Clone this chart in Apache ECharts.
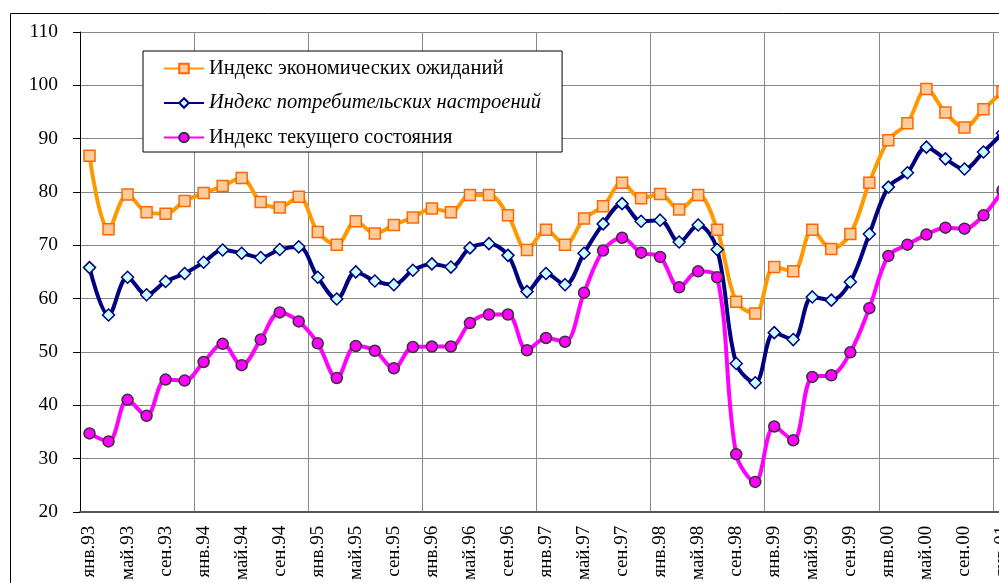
<!DOCTYPE html>
<html>
<head>
<meta charset="utf-8">
<script src="https://cdn.jsdelivr.net/npm/echarts@6/dist/echarts.min.js"></script>
<style>
html,body{margin:0;padding:0;background:#fff;overflow:hidden;}
#chart{width:1040px;height:583px;}
</style>
</head>
<body>
<div id="chart"></div>
<script>
var categories = [
 'янв.93','мар.93','май.93','июл.93','сен.93','ноя.93',
 'янв.94','мар.94','май.94','июл.94','сен.94','ноя.94',
 'янв.95','мар.95','май.95','июл.95','сен.95','ноя.95',
 'янв.96','мар.96','май.96','июл.96','сен.96','ноя.96',
 'янв.97','мар.97','май.97','июл.97','сен.97','ноя.97',
 'янв.98','мар.98','май.98','июл.98','сен.98','ноя.98',
 'янв.99','мар.99','май.99','июл.99','сен.99','ноя.99',
 'янв.00','мар.00','май.00','июл.00','сен.00','ноя.00',
 'янв.01'
];
var seriesNames = [
 'Индекс экономических ожиданий',
 'Индекс потребительских настроений',
 'Индекс текущего состояния'
];
var econExpect = [86.8,73.0,79.5,76.2,75.9,78.3,79.8,81.1,82.6,78.1,77.1,79.1,72.5,70.1,
 74.5,72.2,73.8,75.2,76.9,76.2,79.4,79.4,75.6,69.1,72.9,70.1,75.0,77.3,
 81.7,78.8,79.6,76.7,79.4,72.9,59.4,57.2,65.9,65.1,72.9,69.3,72.1,81.7,
 89.7,92.9,99.3,94.9,92.1,95.5,98.8];
var consumerSent = [65.8,56.9,64.0,60.7,63.2,64.7,66.8,69.1,68.5,67.7,69.2,69.7,64.0,59.9,
 65.0,63.3,62.6,65.3,66.5,65.9,69.5,70.3,68.1,61.3,64.7,62.6,68.5,74.0,
 77.8,74.5,74.7,70.6,73.8,69.2,47.8,44.2,53.6,52.3,60.3,59.7,63.1,72.1,
 80.9,83.6,88.4,86.2,84.3,87.5,91.0];
var currentState = [34.7,33.2,41.0,38.0,44.8,44.6,48.1,51.5,47.5,52.3,57.4,55.7,51.6,45.1,
 51.1,50.2,46.9,50.9,51.0,51.0,55.4,57.0,57.0,50.3,52.6,51.9,61.1,69.0,
 71.4,68.6,67.8,62.1,65.1,64.0,30.8,25.6,36.0,33.4,45.3,45.6,49.9,58.2,
 68.0,70.1,72.0,73.3,73.1,75.6,80.3];
var yTicks = [20,30,40,50,60,70,80,90,100,110];

var serif = '"Liberation Serif","Times New Roman",serif';
var chart = echarts.init(document.getElementById('chart'), null, {renderer:'canvas'});
chart.setOption({
  animation: false,
  backgroundColor: '#fff',
  graphic: [{
    type: 'rect', z: 0, silent: true,
    shape: {x: 10.5, y: 13.5, width: 1200, height: 800},
    style: {fill: 'none', stroke: '#000', lineWidth: 1}
  }],
  grid: {left: 80, top: 32, width: 932, height: 482, containLabel: false},
  legend: {
    left: 143, top: 51,
    orient: 'vertical',
    itemWidth: 40, itemHeight: 12,
    itemGap: 14,
    padding: [7, 21, 4, 20],
    backgroundColor: '#fff',
    borderColor: '#000', borderWidth: 1,
    data: seriesNames,
    textStyle: {fontFamily: serif, fontSize: 20.5, color: '#000', lineHeight: 20,
      rich: {it: {fontFamily: serif, fontSize: 20.5, lineHeight: 20, fontStyle: 'italic', color: '#000'}}},
    formatter: function (n) { return n === seriesNames[1] ? '{it|' + n + '}' : n; }
  },
  xAxis: {
    type: 'category',
    data: categories,
    boundaryGap: true,
    axisLine: {show: true, lineStyle: {color: '#555', width: 2}},
    axisTick: {show: false},
    splitLine: {show: true, interval: 5, lineStyle: {color: '#888', width: 1}},
    axisLabel: {interval: 1, rotate: 90, margin: 14, fontFamily: serif, fontSize: 19, color: '#000'}
  },
  yAxis: {
    type: 'value', min: yTicks[0], max: yTicks[yTicks.length - 1], interval: 10,
    axisLine: {show: true, lineStyle: {color: '#000', width: 1}},
    axisTick: {show: true, length: 7, lineStyle: {color: '#000'}},
    splitLine: {show: true, lineStyle: {color: '#888', width: 1}},
    axisLabel: {margin: 22, fontFamily: serif, fontSize: 19.5, color: '#000'}
  },
  series: [
    {
      name: seriesNames[0], type: 'line', data: econExpect, smooth: 0.35,
      symbol: 'rect', symbolSize: 11, showAllSymbol: true,
      lineStyle: {color: '#FF9900', width: 4},
      itemStyle: {color: '#FFCC99', borderColor: '#FF6600', borderWidth: 1.5}
    },
    {
      name: seriesNames[1], type: 'line', data: consumerSent, smooth: 0.35,
      symbol: 'diamond', symbolSize: 12, showAllSymbol: true,
      lineStyle: {color: '#000080', width: 4},
      itemStyle: {color: '#CCFFFF', borderColor: '#000080', borderWidth: 1.5}
    },
    {
      name: seriesNames[2], type: 'line', data: currentState, smooth: 0.35,
      symbol: 'circle', symbolSize: 11, showAllSymbol: true,
      lineStyle: {color: '#FF00FF', width: 4},
      itemStyle: {color: '#FF00FF', borderColor: '#333333', borderWidth: 1.5}
    }
  ]
});
</script>
</body>
</html>
